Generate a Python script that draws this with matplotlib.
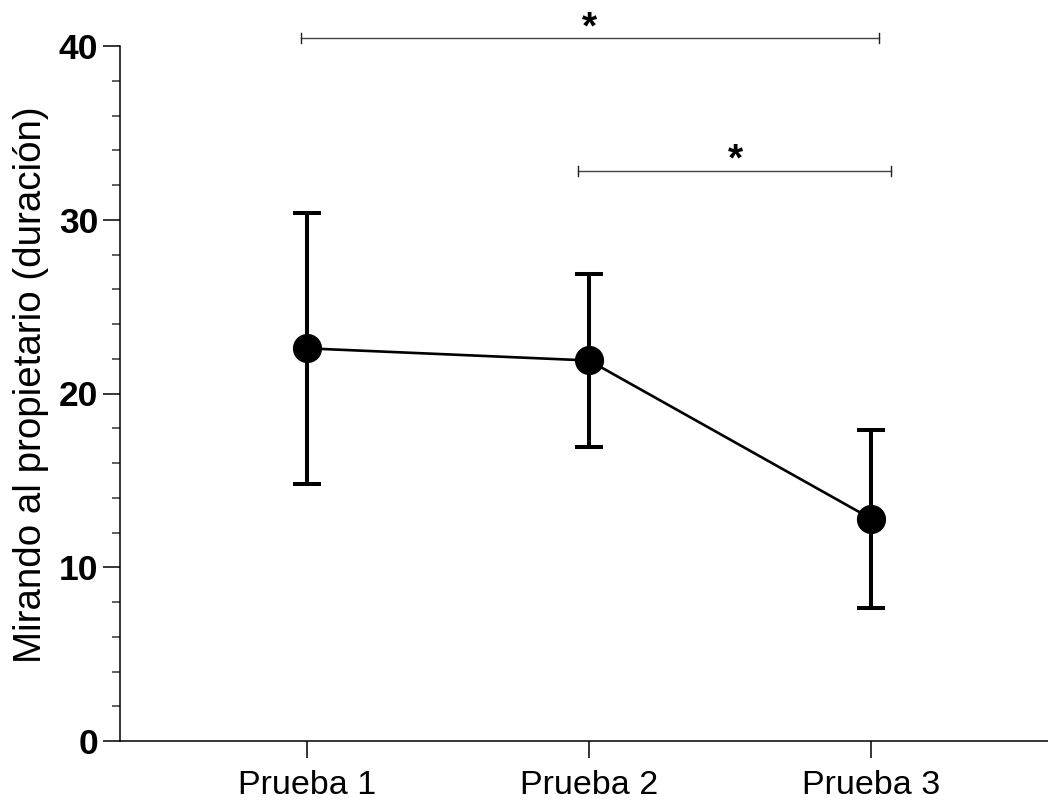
import matplotlib
matplotlib.use("Agg")
import matplotlib.pyplot as plt
from matplotlib.ticker import MultipleLocator

plt.rcParams['font.family'] = ['Liberation Sans', 'DejaVu Sans']

categories = ["Prueba 1", "Prueba 2", "Prueba 3"]
means = [22.6, 21.9, 12.8]
upper = [30.4, 26.9, 17.9]
lower = [14.8, 16.9, 7.65]
# significance brackets: (x_start, x_end, y, star_x, star_baseline_y)
brackets = [(0.98, 3.03, 40.45, 2.0, 40.45), (1.96, 3.07, 32.8, 2.52, 32.85)]
ylabel = "Mirando al propietario (duración)"

fig = plt.figure(figsize=(10.48, 8.0), dpi=100)
ax = fig.add_axes([120/1048, 1-741/800, 1-120/1048, (741-46)/800])

x = [1, 2, 3]
yerr_lo = [m - l for m, l in zip(means, lower)]
yerr_hi = [u - m for u, m in zip(upper, means)]
ax.errorbar(x, means, yerr=[yerr_lo, yerr_hi], fmt='none', ecolor='black',
            elinewidth=2.9, capsize=10, capthick=2.9, zorder=2)
ax.plot(x, means, color='black', lw=1.9, zorder=3)
ax.plot(x, means, 'o', color='black', markersize=20, zorder=4)

ax.set_xlim(1 - 187/282, 3 + 177/282)
ax.set_ylim(0, 40)
ax.set_xticks(x)
ax.set_xticklabels(categories, fontsize=24.5)
ax.set_yticks([0, 10, 20, 30, 40])
ax.set_yticklabels(["0", "10", "20", "30", "40"], fontsize=25.5, fontweight='bold')
ax.yaxis.set_minor_locator(MultipleLocator(2))
ax.tick_params(axis='y', which='major', length=12.5, width=1.1, pad=3)
ax.tick_params(axis='y', which='minor', length=6, width=1.1, color='#333333')
ax.tick_params(axis='x', which='major', length=12, width=1.1, pad=9)
ax.set_ylabel(ylabel, fontsize=27.7)
ax.yaxis.set_label_coords(-0.077, 0.512)

for s in ['top', 'right']:
    ax.spines[s].set_visible(False)
for s in ['left', 'bottom']:
    ax.spines[s].set_linewidth(1.1)

for x0, x1, yb, sx, sy in brackets:
    ax.plot([x0, x1], [yb, yb], color='#444444', lw=1.0, clip_on=False, zorder=1)
    for xe in (x0, x1):
        ax.plot([xe, xe], [yb - 0.3, yb + 0.3], color='#222222', lw=1.0, clip_on=False)
    ax.text(sx, sy, "*", ha='center', va='baseline', fontsize=28,
            fontweight='bold', clip_on=False)

fig.savefig("out.png", dpi=100)
